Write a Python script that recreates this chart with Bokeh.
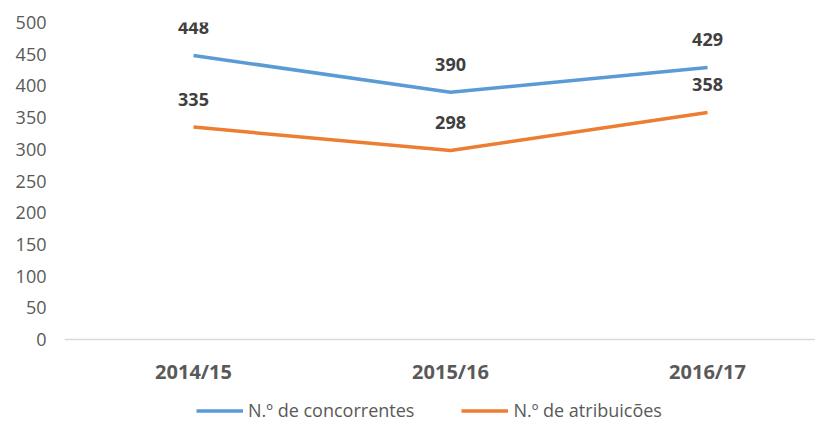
from bokeh.plotting import figure
from bokeh.models import ColumnDataSource, FixedTicker, Range1d, Legend, LegendItem, LabelSet, Span
from bokeh.core.properties import value
from bokeh.embed import file_html
from bokeh.resources import INLINE

categories = ["2014/15", "2015/16", "2016/17"]
concorrentes = [448, 390, 429]
atribuicoes = [335, 298, 358]
y_ticks = [0, 50, 100, 150, 200, 250, 300, 350, 400, 450, 500]

xs = list(range(len(categories)))
BLUE = "#5B9BD5"
ORANGE = "#ED7D31"
FONT = "Open Sans"

p = figure(frame_width=751, frame_height=400, output_backend="svg", toolbar_location=None,
           x_range=Range1d(-0.502, 2.420), y_range=Range1d(-130.9, 500),
           x_axis_location=None,
           min_border_left=64, min_border_right=0, min_border_top=22, min_border_bottom=0)
p.outline_line_color = None
p.xgrid.grid_line_color = None
p.ygrid.grid_line_color = None

# baseline at y = 0
p.add_layout(Span(location=0, dimension="width", line_color="#D9D9D9", line_width=1.5))

src1 = ColumnDataSource(dict(x=xs, y=concorrentes, t=[str(v) for v in concorrentes]))
src2 = ColumnDataSource(dict(x=xs, y=atribuicoes, t=[str(v) for v in atribuicoes]))

r1 = p.line("x", "y", source=src1, line_color=BLUE, line_width=3.5)
r2 = p.line("x", "y", source=src2, line_color=ORANGE, line_width=3.5)

for src in (src1, src2):
    lab = LabelSet(x="x", y="y", text="t", source=src, y_offset=28,
                   text_align="center", text_baseline="middle",
                   text_font=value(FONT), text_font_style="bold", text_font_size="18px",
                   text_color="#404040")
    p.add_layout(lab)

# category labels below the baseline
cat_src = ColumnDataSource(dict(x=xs, y=[0] * len(categories), t=categories))
p.add_layout(LabelSet(x="x", y="y", text="t", source=cat_src, y_offset=-32,
                      text_align="center", text_baseline="middle",
                      text_font=value(FONT), text_font_style="bold", text_font_size="20px",
                      text_color="#595959"))

p.yaxis.ticker = FixedTicker(ticks=y_ticks)
p.yaxis.axis_line_color = None
p.yaxis.major_tick_line_color = None
p.yaxis.minor_tick_line_color = None
p.yaxis.major_tick_out = 0
p.yaxis.major_tick_in = 0
p.yaxis.major_label_text_font = FONT
p.yaxis.major_label_text_font_size = "18px"
p.yaxis.major_label_text_color = "#595959"
p.yaxis.major_label_standoff = 18

legend = Legend(items=[LegendItem(label="N.º de concorrentes", renderers=[r1]),
                       LegendItem(label="N.º de atribuicões", renderers=[r2])],
                orientation="horizontal", location=(132, 0),
                glyph_width=47, glyph_height=17, label_height=17,
                label_standoff=5, spacing=47,
                label_text_font=FONT, label_text_font_size="18px",
                label_text_color="#595959", border_line_color=None,
                background_fill_alpha=0, margin=0, padding=0)
p.add_layout(legend, "center")

open("out.html", "w").write(file_html(p, INLINE))
